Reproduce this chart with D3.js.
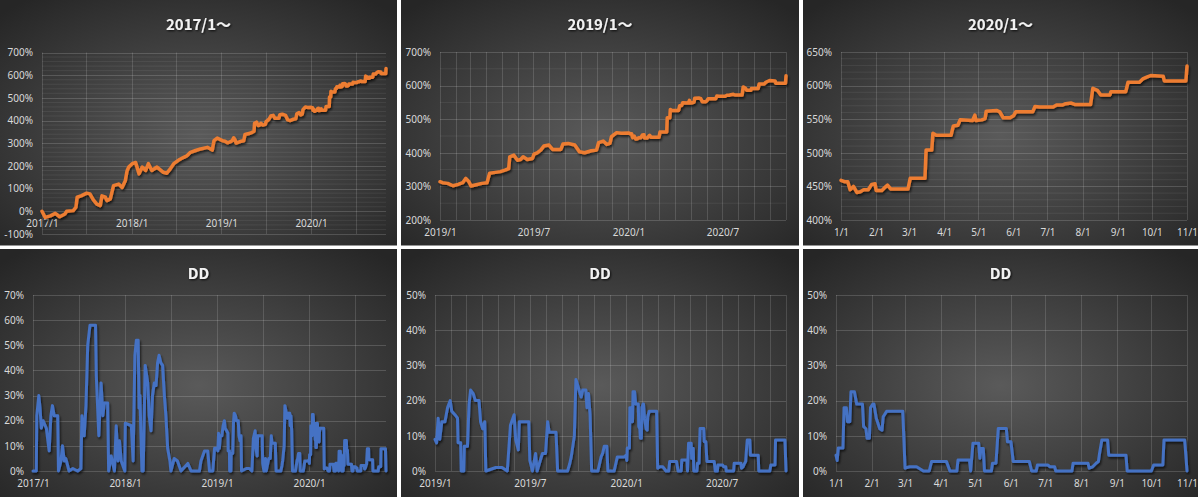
<!DOCTYPE html>
<html>
<head>
<meta charset="utf-8">
<script src="https://cdn.jsdelivr.net/npm/d3@7"></script>
<style>
  body { margin: 0; background: #fff; }
  svg { display: block; }
</style>
</head>
<body>
<svg id="chart" width="1200" height="497"></svg>
<script>
// 累積損益 (%), 2017/1〜
const equitySeries = [
  ["2017-01-01",0],["2017-01-14",-27],["2017-02-04",-20],["2017-02-24",-9],["2017-03-14",-24],["2017-04-04",-12],
  ["2017-04-11",0],["2017-05-08",3],["2017-05-19",18],["2017-05-24",62],["2017-06-11",69],["2017-07-02",80],
  ["2017-07-15",77],["2017-07-29",50],["2017-08-12",32],["2017-08-26",25],["2017-09-02",68],["2017-09-16",62],
  ["2017-09-22",47],["2017-10-06",55],["2017-10-19",113],["2017-11-09",120],["2017-11-23",105],["2017-12-06",135],
  ["2017-12-13",178],["2017-12-20",195],["2018-01-03",210],["2018-01-17",215],["2018-01-31",165],["2018-02-13",195],
  ["2018-02-27",180],["2018-03-10",210],["2018-03-24",180],["2018-04-14",195],["2018-05-10",172],["2018-05-24",168],
  ["2018-06-07",187],["2018-06-21",210],["2018-07-11",226],["2018-08-01",238],["2018-08-14",245],["2018-08-28",260],
  ["2018-09-18",268],["2018-10-08",275],["2018-11-05",282],["2018-11-25",270],["2018-12-02",312],["2018-12-15",323],
  ["2019-01-01",314],["2019-01-06",311],["2019-01-16",309],["2019-01-26",302],["2019-02-05",306],["2019-02-14",311],
  ["2019-02-20",324],["2019-02-26",314],["2019-03-02",301],["2019-03-10",304],["2019-03-23",309],["2019-04-02",311],
  ["2019-04-07",339],["2019-04-15",341],["2019-04-28",344],["2019-05-08",349],["2019-05-14",353],["2019-05-16",388],
  ["2019-05-24",393],["2019-05-31",378],["2019-06-06",380],["2019-06-11",388],["2019-06-19",380],["2019-06-29",383],
  ["2019-07-02",396],["2019-07-08",400],["2019-07-15",408],["2019-07-21",420],["2019-07-31",423],["2019-08-07",410],
  ["2019-08-23",410],["2019-08-27",426],["2019-09-06",428],["2019-09-19",423],["2019-09-28",403],["2019-10-08",400],
  ["2019-10-21",406],["2019-10-31",408],["2019-11-04",430],["2019-11-13",435],["2019-11-20",425],["2019-11-26",428],
  ["2019-11-29",448],["2019-12-09",460],["2019-12-18",458],
  ["2020-01-01",459],["2020-01-04",457],["2020-01-07",457],["2020-01-09",445],["2020-01-12",450],["2020-01-15",441],
  ["2020-01-18",442],["2020-01-21",445],["2020-01-25",445],["2020-01-28",453],["2020-01-31",454],["2020-02-01",444],
  ["2020-02-06",444],["2020-02-09",449],["2020-02-11",452],["2020-02-14",446],["2020-02-29",446],["2020-03-02",462],
  ["2020-03-15",462],["2020-03-16",504],["2020-03-21",504],["2020-03-22",529],["2020-03-25",526],["2020-04-07",526],
  ["2020-04-09",540],["2020-04-13",541],["2020-04-15",549],["2020-04-26",548],["2020-04-28",556],["2020-04-29",548],
  ["2020-05-04",549],["2020-05-07",551],["2020-05-08",562],["2020-05-17",563],["2020-05-20",561],["2020-05-23",552],
  ["2020-05-29",552],["2020-06-01",555],["2020-06-03",561],["2020-06-18",561],["2020-06-20",569],["2020-06-24",568],
  ["2020-07-06",568],["2020-07-09",571],["2020-07-14",571],["2020-07-17",573],["2020-07-22",574],["2020-07-25",572],
  ["2020-08-08",572],["2020-08-10",596],["2020-08-14",593],["2020-08-17",586],["2020-08-25",586],["2020-08-26",591],
  ["2020-09-08",591],["2020-09-10",605],["2020-09-20",605],["2020-09-23",610],["2020-09-27",613],["2020-09-30",615],
  ["2020-10-11",614],["2020-10-12",607],["2020-10-31",607],["2020-11-01",629]
];

// ドローダウン (%)
const ddSeries = [
  ["2017-01-01",0],["2017-01-14",0],["2017-01-16",22],["2017-01-24",30],["2017-01-29",25],["2017-02-03",17],
  ["2017-02-10",20],["2017-02-23",17],["2017-03-01",12],["2017-03-06",8],["2017-03-13",22],["2017-03-19",26],
  ["2017-03-26",22],["2017-04-09",22],["2017-04-12",0],["2017-04-22",4],["2017-04-28",10],["2017-05-05",4],
  ["2017-05-11",5],["2017-05-24",0],["2017-06-08",1],["2017-06-27",0],["2017-07-10",1],["2017-07-14",22],
  ["2017-07-23",14],["2017-07-30",26],["2017-08-06",50],["2017-08-15",58],["2017-09-06",58],["2017-09-09",38],
  ["2017-09-19",14],["2017-09-28",35],["2017-10-05",22],["2017-10-11",27],["2017-10-24",27],["2017-10-28",0],
  ["2017-11-07",6],["2017-11-20",0],["2017-11-27",18],["2017-12-04",4],["2017-12-10",12],["2017-12-17",4],
  ["2017-12-31",0],["2018-01-02",19],["2018-01-26",18],["2018-02-02",4],["2018-02-09",46],["2018-02-15",52],
  ["2018-02-22",52],["2018-02-26",25],["2018-03-01",30],["2018-03-09",0],["2018-03-14",0],["2018-03-22",42],
  ["2018-04-01",35],["2018-04-07",22],["2018-04-14",16],["2018-04-20",30],["2018-04-27",35],["2018-05-04",34],
  ["2018-05-10",43],["2018-05-16",46],["2018-05-23",43],["2018-05-30",42],["2018-06-06",30],["2018-06-12",22],
  ["2018-06-19",9],["2018-06-28",4],["2018-07-02",0],["2018-07-15",5],["2018-07-28",4],["2018-08-11",0],
  ["2018-09-07",3],["2018-09-20",0],["2018-10-23",0],["2018-10-29",4],["2018-11-12",8],["2018-11-25",8],
  ["2018-12-02",0],["2018-12-15",0],["2018-12-22",9],
  ["2019-01-01",9],["2019-01-04",8],["2019-01-07",15],["2019-01-10",9],["2019-01-14",14],["2019-01-20",14],
  ["2019-01-25",18],["2019-01-30",20],["2019-02-02",17],["2019-02-08",16],["2019-02-13",15],["2019-02-14",8],
  ["2019-02-19",8],["2019-02-20",0],["2019-02-25",0],["2019-02-26",7],["2019-03-04",7],["2019-03-07",19],
  ["2019-03-10",23],["2019-03-15",22],["2019-03-19",20],["2019-03-26",20],["2019-03-29",14],["2019-04-02",12],
  ["2019-04-06",14],["2019-04-08",0],["2019-04-27",1],["2019-05-09",1],["2019-05-19",0],["2019-05-25",13],
  ["2019-06-01",16],["2019-06-04",9],["2019-06-09",6],["2019-06-11",14],["2019-06-29",14],["2019-07-01",3],
  ["2019-07-06",0],["2019-07-12",5],["2019-07-15",0],["2019-07-25",5],["2019-07-31",5],["2019-08-04",14],
  ["2019-08-07",11],["2019-08-20",11],["2019-08-23",0],["2019-09-11",0],["2019-09-15",2],["2019-09-18",4],
  ["2019-09-21",7],["2019-09-24",10],["2019-09-27",26],["2019-10-03",23],["2019-10-07",21],["2019-10-10",23],
  ["2019-10-16",23],["2019-10-18",18],["2019-10-21",22],["2019-10-24",16],["2019-10-27",0],["2019-11-08",0],
  ["2019-11-14",4],["2019-11-17",5],["2019-11-20",7],["2019-11-25",7],["2019-11-27",0],["2019-12-09",0],
  ["2019-12-15",4],["2019-12-28",4],
  ["2020-01-01",4.5],["2020-01-02",3],["2020-01-03",6.5],["2020-01-07",6.5],["2020-01-08",18],["2020-01-10",18],
  ["2020-01-11",14],["2020-01-13",14],["2020-01-14",22.5],["2020-01-17",22.5],["2020-01-19",19],["2020-01-24",19],
  ["2020-01-25",12.6],["2020-01-27",12],["2020-01-28",9.3],["2020-01-30",9.3],["2020-01-31",18],["2020-02-02",19],
  ["2020-02-03",19],["2020-02-05",15],["2020-02-06",14],["2020-02-08",12],["2020-02-10",11.6],["2020-02-11",15.4],
  ["2020-02-14",17],["2020-02-28",17],["2020-03-01",0.8],["2020-03-05",1.2],["2020-03-11",1.2],["2020-03-17",0],
  ["2020-03-22",0],["2020-03-24",2.7],["2020-04-06",2.7],["2020-04-09",0],["2020-04-15",0],["2020-04-16",3.1],
  ["2020-04-26",3.1],["2020-04-27",0],["2020-04-29",7.9],["2020-05-04",7.9],["2020-05-05",3.6],["2020-05-06",6.4],
  ["2020-05-08",6.4],["2020-05-09",0],["2020-05-15",0],["2020-05-16",2.2],["2020-05-19",2.2],["2020-05-21",12.1],
  ["2020-05-28",12.1],["2020-05-29",8.3],["2020-06-01",8.3],["2020-06-03",2.7],["2020-06-17",2.7],["2020-06-19",0],
  ["2020-06-23",0],["2020-06-24",1.7],["2020-07-03",1.7],["2020-07-05",1.2],["2020-07-09",1.2],["2020-07-10",0],
  ["2020-07-24",0],["2020-07-25",2.2],["2020-08-07",2.2],["2020-08-08",0.8],["2020-08-11",1.2],["2020-08-14",2.2],
  ["2020-08-16",2.7],["2020-08-17",5],["2020-08-19",8.8],["2020-08-24",8.8],["2020-08-25",4.5],["2020-09-09",4.5],
  ["2020-09-10",0],["2020-10-01",0],["2020-10-03",1.7],["2020-10-11",1.7],["2020-10-12",8.8],["2020-10-30",8.8],
  ["2020-11-01",0]
];

const equityTitles = ["2017/1〜", "2019/1〜", "2020/1〜"];
const ddTitle = "DD";

const yearTickLabels = ["2017/1", "2018/1", "2019/1", "2020/1"];
const halfTickLabels = ["2019/1", "2019/7", "2020/1", "2020/7"];
const monthTickLabels = ["1/1","2/1","3/1","4/1","5/1","6/1","7/1","8/1","9/1","10/1","11/1"];

const equityTicksA = [-100, 0, 100, 200, 300, 400, 500, 600, 700];
const equityTicksB = [200, 300, 400, 500, 600, 700];
const equityTicksC = [400, 450, 500, 550, 600, 650];
const ddTicksA = [0, 10, 20, 30, 40, 50, 60, 70];
const ddTicksB = [0, 10, 20, 30, 40, 50];

const parseDate = d3.timeParse("%Y-%m-%d");
const endDate = parseDate("2020-11-01");

// "2017/1" -> 2017年1月, "3/1" -> 2020年3月1日
function labelDate(s) {
  const [a, b] = s.split("/").map(Number);
  return a > 12 ? new Date(a, b - 1, 1) : new Date(2020, a - 1, b);
}

const orange = "#ED7D31", blue = "#4472C4";

const panels = [
  { box: [0, 0, 397, 245.5], title: equityTitles[0], data: equitySeries, from: "2017-01-01",
    plot: [42, 386, 52.5, 234], ticks: equityTicksA, minor: 20, xLabels: yearTickLabels, gridMonths: 6,
    color: orange, width: 3.5, axisAtZero: true, pad: 8.5 },
  { box: [401, 0, 398, 245.5], title: equityTitles[1], data: equitySeries, from: "2019-01-01",
    plot: [440, 786, 52, 220], ticks: equityTicksB, minor: 50, xLabels: halfTickLabels, gridMonths: 1,
    color: orange, width: 3.5, pad: 8.5 },
  { box: [803, 0, 395, 245.5], title: equityTitles[2], data: equitySeries, from: "2020-01-01",
    plot: [841, 1187, 52, 220], ticks: equityTicksC, minor: 10, xLabels: monthTickLabels, gridMonths: 1,
    color: orange, width: 3.5, pad: 8.5 },
  { box: [0, 249, 397, 248], title: ddTitle, data: ddSeries, from: "2017-01-01",
    plot: [33, 386, 295, 471], ticks: ddTicksA, xLabels: yearTickLabels, gridMonths: 6,
    color: blue, width: 3, pad: 9 },
  { box: [401, 249, 398, 248], title: ddTitle, data: ddSeries, from: "2019-01-01",
    plot: [435, 786, 295, 471], ticks: ddTicksB, xLabels: halfTickLabels, gridMonths: 1,
    color: blue, width: 3, pad: 9 },
  { box: [803, 249, 395, 248], title: ddTitle, data: ddSeries, from: "2020-01-01",
    plot: [836, 1187, 295, 471], ticks: ddTicksB, xLabels: monthTickLabels, gridMonths: 1,
    color: blue, width: 3, pad: 9 }
];

const svg = d3.select("#chart");
const defs = svg.append("defs");

const grad = defs.append("radialGradient")
  .attr("id", "bg").attr("cx", "50%").attr("cy", "55%").attr("r", "70%");
grad.append("stop").attr("offset", "0%").attr("stop-color", "#5a5a5a");
grad.append("stop").attr("offset", "100%").attr("stop-color", "#262626");

defs.append("filter").attr("id", "shadow").attr("x", "-5%").attr("y", "-5%").attr("width", "110%").attr("height", "110%")
  .append("feDropShadow")
  .attr("dx", 1.2).attr("dy", 2).attr("stdDeviation", 1.2)
  .attr("flood-color", "#000").attr("flood-opacity", 0.65);

defs.append("filter").attr("id", "tshadow")
  .append("feDropShadow")
  .attr("dx", 1).attr("dy", 1).attr("stdDeviation", 0.8)
  .attr("flood-color", "#000").attr("flood-opacity", 0.8);

panels.forEach(p => {
  const [bx, by, bw, bh] = p.box;
  const [left, right, top, bottom] = p.plot;
  const start = parseDate(p.from);
  const yMin = p.ticks[0], yMax = p.ticks[p.ticks.length - 1];

  const g = svg.append("g");

  g.append("rect")
    .attr("x", bx).attr("y", by).attr("width", bw).attr("height", bh)
    .attr("fill", "url(#bg)");

  const x = d3.scaleTime().domain([start, endDate]).range([left, right]);
  const y = d3.scaleLinear().domain([yMin, yMax]).range([bottom, top]);

  // 補助目盛線
  if (p.minor) {
    g.append("g").selectAll("line")
      .data(d3.range(yMin, yMax, p.minor).filter(v => !p.ticks.includes(v)))
      .join("line")
      .attr("x1", left).attr("x2", right)
      .attr("y1", d => y(d)).attr("y2", d => y(d))
      .attr("stroke", "#fff").attr("stroke-opacity", 0.07);
  }

  // 縦の目盛線
  g.append("g").selectAll("line")
    .data(d3.timeMonth.every(p.gridMonths).range(start, d3.timeDay.offset(endDate, 1)))
    .join("line")
    .attr("x1", d => Math.round(x(d)) + 0.5).attr("x2", d => Math.round(x(d)) + 0.5)
    .attr("y1", top).attr("y2", bottom)
    .attr("stroke", "#fff").attr("stroke-opacity", 0.14);

  // 横の目盛線
  g.append("g").selectAll("line")
    .data(p.ticks)
    .join("line")
    .attr("x1", left).attr("x2", right)
    .attr("y1", d => Math.round(y(d)) + 0.5).attr("y2", d => Math.round(y(d)) + 0.5)
    .attr("stroke", "#fff").attr("stroke-opacity", 0.16);

  // 縦軸ラベル
  const yAxis = g.append("g")
    .attr("transform", `translate(${left},0)`)
    .call(d3.axisLeft(y).tickValues(p.ticks).tickSize(0).tickPadding(9).tickFormat(d => d + "%"));
  yAxis.select(".domain").remove();

  // 横軸ラベル
  const axisY = p.axisAtZero ? y(0) : bottom;
  const xAxis = g.append("g")
    .attr("transform", `translate(0,${axisY})`)
    .call(d3.axisBottom(x).tickValues(p.xLabels.map(labelDate)).tickSize(0).tickPadding(p.pad)
      .tickFormat((d, i) => p.xLabels[i]));
  xAxis.select(".domain").remove();

  g.selectAll(".tick text")
    .attr("fill", "#d9d9d9")
    .style("font-family", "'Noto Sans', 'DejaVu Sans', sans-serif")
    .style("font-size", "10px");

  // 系列
  const series = p.data.map(d => ({ date: parseDate(d[0]), value: d[1] }))
    .filter(d => d.date >= start);

  g.append("path")
    .datum(series)
    .attr("fill", "none")
    .attr("stroke", p.color)
    .attr("stroke-width", p.width)
    .attr("stroke-linejoin", "round")
    .attr("stroke-linecap", "round")
    .attr("filter", "url(#shadow)")
    .attr("d", d3.line().x(d => x(d.date)).y(d => y(d.value)));

  // タイトル
  g.append("text")
    .attr("x", bx + bw / 2)
    .attr("y", by + 29.5)
    .attr("text-anchor", "middle")
    .attr("fill", "#f2f2f2")
    .attr("filter", "url(#tshadow)")
    .style("font-family", "'Noto Sans CJK JP', 'Noto Sans', sans-serif")
    .style("font-size", "15px")
    .style("font-weight", "bold")
    .text(p.title);
});
</script>
</body>
</html>
